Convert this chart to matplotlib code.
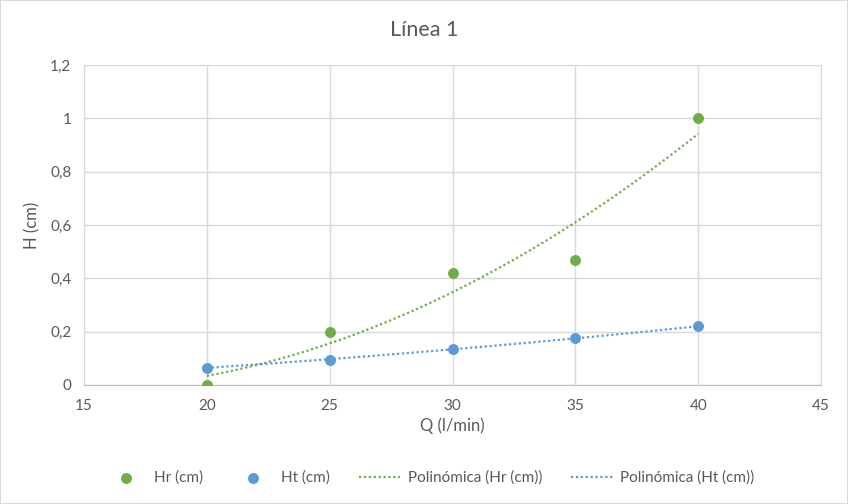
import numpy as np
import matplotlib
matplotlib.use("Agg")
import matplotlib.pyplot as plt
from matplotlib.ticker import FuncFormatter, MultipleLocator

plt.rcParams['font.family'] = ['Lato', 'DejaVu Sans']

q = [20, 25, 30, 35, 40]
hr = [0.0, 0.2, 0.42, 0.47, 1.0]
ht = [0.065, 0.095, 0.135, 0.175, 0.22]
title = "Línea 1"
xlabel = "Q (l/min)"
ylabel = "H (cm)"
labels = ["Hr (cm)", "Ht (cm)", "Polinómica (Hr (cm))", "Polinómica (Ht (cm))"]

green = "#70AD47"
blue = "#5B9BD5"
txt = "#595959"
grid = "#D9D9D9"

fig = plt.figure(figsize=(8.48, 5.04), dpi=100)
ax = fig.add_axes([84/848, 1-385/504, (821-84)/848, (385-65)/504])

xs = np.linspace(min(q), max(q), 200)
pr = np.polyfit(q, hr, 2)
pt = np.polyfit(q, ht, 2)

s1 = ax.scatter(q, hr, s=62, color=green, zorder=4, label=labels[0], linewidths=0)
s2 = ax.scatter(q, ht, s=62, color=blue, zorder=4, label=labels[1], linewidths=0)
l1, = ax.plot(xs, np.polyval(pr, xs), color=green, lw=1.6, ls=(0, (1, 1.2)), zorder=3, label=labels[2])
l2, = ax.plot(xs, np.polyval(pt, xs), color=blue, lw=1.6, ls=(0, (1, 1.2)), zorder=3, label=labels[3])

ax.set_xlim(15, 45)
ax.set_ylim(0, 1.2)
ax.xaxis.set_major_locator(MultipleLocator(5))
ax.yaxis.set_major_locator(MultipleLocator(0.2))
fmt = FuncFormatter(lambda v, p: ("%g" % round(v, 2)).replace(".", ","))
ax.yaxis.set_major_formatter(fmt)
ax.xaxis.set_major_formatter(fmt)
ax.grid(True, color=grid, lw=1)
ax.set_axisbelow(True)
for side in ["top", "right", "left"]:
    ax.spines[side].set_color(grid)
ax.spines["bottom"].set_color("#BFBFBF")
ax.tick_params(length=0, labelsize=11, colors=txt)
ax.tick_params(axis="x", pad=10)
ax.tick_params(axis="y", pad=9)
ax.set_xlabel(xlabel, fontsize=12, color=txt, labelpad=3)
ax.set_ylabel(ylabel, fontsize=12, color=txt, labelpad=7)
fig.text(0.5, 1-30/504, title, ha="center", va="center", fontsize=15.5, color=txt)

fig.legend(handles=[s1, s2, l1, l2], loc="center", bbox_to_anchor=(0.507, 1-478/504),
           ncol=4, frameon=False, fontsize=11, labelcolor=txt, columnspacing=1.9,
           handlelength=2.7, handletextpad=0.5)

fig.patches.append(plt.Rectangle((0, 0), 1, 1, transform=fig.transFigure,
                                 fill=False, edgecolor="#D9D9D9", lw=1.5))
fig.savefig("out.png", dpi=100)
